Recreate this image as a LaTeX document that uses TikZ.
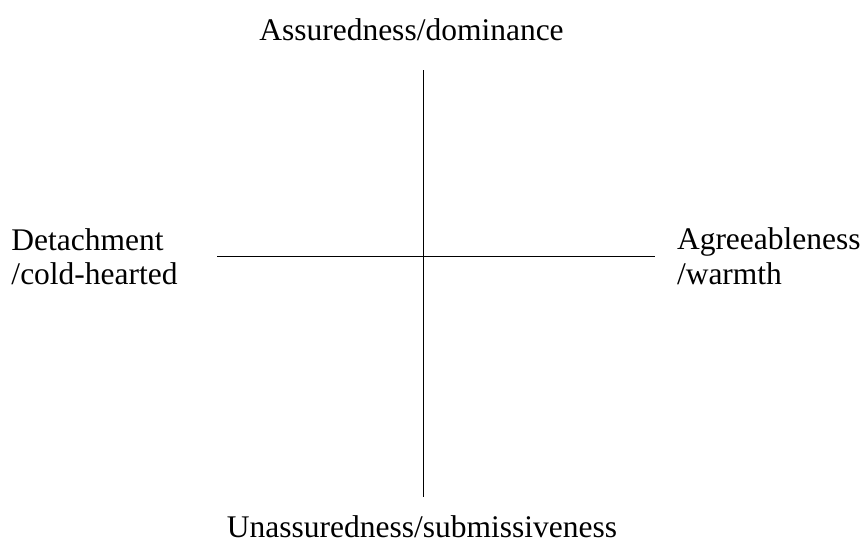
\documentclass[tikz,border=0pt]{standalone}
\usepackage{fontspec}
\setmainfont{Liberation Serif}
\begin{document}
\begin{tikzpicture}[x=1pt,y=-1pt,
  lbl/.style={inner sep=0pt,outer sep=0pt,font=\fontsize{31.5}{34}\selectfont},
  axis/.style={line width=1pt,black}]
\useasboundingbox (0,0) rectangle (862,544);
\node[lbl,anchor=base] (top) at (411.5,40) {Assuredness/dominance};
\node[lbl,anchor=base] (bottom) at (422,537) {Unassuredness/submissiveness};
\node[lbl,anchor=base west] (left1) at (11.5,250) {Detachment};
\node[lbl,anchor=base west] (left2) at (11.5,284) {/cold-hearted};
\node[lbl,anchor=base west] (right1) at (677,249) {Agreeableness};
\node[lbl,anchor=base west] (right2) at (677,284) {/warmth};
\coordinate (vt) at (423,70);
\coordinate (vb) at (423,497);
\coordinate (hl) at (217,256);
\coordinate (hr) at (655,256);
\draw[axis] (vt) -- (vb);
\draw[axis] (hl) -- (hr);
\end{tikzpicture}
\end{document}
